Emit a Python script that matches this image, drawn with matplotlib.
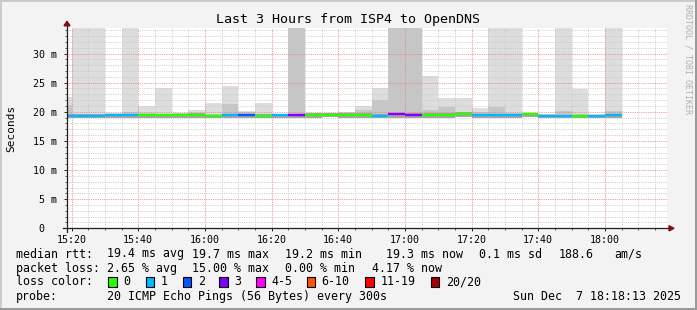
import matplotlib
matplotlib.use("Agg")
import matplotlib.pyplot as plt
from matplotlib.patches import Rectangle, Polygon
from matplotlib.lines import Line2D
from matplotlib.ticker import FixedLocator, MultipleLocator

# ---------------- data ----------------
# bin start, minutes after 15:00 (5-minute bins, 15:15 .. 18:00)
bin_start = [15, 20, 25, 30, 35, 40, 45, 50, 55, 60, 65, 70, 75, 80, 85, 90, 95,
             100, 105, 110, 115, 120, 125, 130, 135, 140, 145, 150, 155, 160,
             165, 170, 175, 180]
median_ms = [19.3, 19.3, 19.3, 19.4, 19.4, 19.4, 19.4, 19.4, 19.5, 19.2, 19.4,
             19.4, 19.3, 19.4, 19.4, 19.5, 19.5, 19.5, 19.5, 19.3, 19.6, 19.5,
             19.5, 19.5, 19.7, 19.4, 19.4, 19.4, 19.6, 19.2, 19.2, 19.2, 19.2, 19.4]
loss_count = [1, 1, 1, 1, 1, 0, 0, 0, 0, 0, 1, 2, 0, 1, 3, 0, 0, 0, 0, 1, 3, 3,
              0, 0, 0, 1, 1, 1, 0, 1, 1, 0, 1, 1]
smoke_lo = [18.9, 18.9, 18.9, 18.95, 18.9, 19.0, 19.0, 18.95, 19.0, 18.9, 18.95,
            18.95, 18.9, 19.0, 18.95, 19.0, 19.05, 18.95, 19.0, 18.9, 18.95, 18.95,
            19.0, 19.0, 19.05, 18.9, 18.95, 18.95, 19.05, 18.85, 18.85, 18.85, 18.85, 18.9]
smoke_mid = [21.1, 19.7, 19.6, 19.6, 20.0, 19.8, 19.7, 19.8, 19.7, 19.6, 21.3,
             19.9, 19.7, 19.6, 40.0, 19.6, 19.6, 19.8, 20.3, 22.0, 40.0, 40.0,
             20.3, 20.9, 20.0, 20.0, 20.9, 19.8, 19.7, 19.6, 20.1, 19.6, 19.5, 20.2]
smoke_hi = [22.5, 40.0, 40.0, 19.8, 40.0, 21.0, 24.0, 19.8, 20.3, 21.5, 24.5,
            20.1, 21.5, 19.7, 40.0, 19.6, 19.6, 19.9, 21.0, 24.0, 40.0, 40.0,
            26.1, 22.4, 22.3, 20.6, 40.0, 40.0, 19.7, 19.6, 40.0, 23.9, 19.7, 40.0]

loss_labels = ["0", "1", "2", "3", "4-5", "6-10", "11-19", "20/20"]
loss_colors = ["#26ff00", "#00b8ff", "#0059ff", "#7e00ff", "#ff00ff",
               "#ff5500", "#ff0000", "#a10000"]

x_ticks = [20, 40, 60, 80, 100, 120, 140, 160, 180]
x_tick_labels = ["15:20", "15:40", "16:00", "16:20", "16:40", "17:00",
                 "17:20", "17:40", "18:00"]
y_ticks = [0, 5, 10, 15, 20, 25, 30]
y_tick_labels = ["0  ", "5 m", "10 m", "15 m", "20 m", "25 m", "30 m"]

title = "Last 3 Hours from ISP4 to OpenDNS"

# ---------------- figure ----------------
W, H = 697, 310
MONO = "DejaVu Sans Mono"
plt.rcParams["font.family"] = [MONO]

fig = plt.figure(figsize=(W / 100, H / 100), dpi=100, facecolor="#f3f3f3")


def fx(x):
    return x / W


def fy(y):
    return 1 - y / H


def loss_color(c):
    if c <= 3:
        return loss_colors[c]
    if c <= 5:
        return loss_colors[4]
    if c <= 10:
        return loss_colors[5]
    if c <= 19:
        return loss_colors[6]
    return loss_colors[7]


ax = fig.add_axes([fx(67), fy(228.3), 600 / W, 200 / H])
ax.set_facecolor("white")
ax.set_xlim(18.62, 198.62)
ax.set_ylim(0, 34.33)

# smoke
widths = [5] * len(bin_start)
ax.bar(bin_start, [h - l for h, l in zip(smoke_hi, smoke_lo)], bottom=smoke_lo,
       width=widths, align="edge", color="#dddddd", linewidth=0, zorder=1)
ax.bar(bin_start, [m - l for m, l in zip(smoke_mid, smoke_lo)], bottom=smoke_lo,
       width=widths, align="edge", color="#c6c6c6", linewidth=0, zorder=1.1)
ax.bar(bin_start, [md + 0.25 - l for md, l in zip(median_ms, smoke_lo)], bottom=smoke_lo,
       width=widths, align="edge", color="#a4a4a4", linewidth=0, zorder=1.2)

# grid
ax.xaxis.set_major_locator(FixedLocator(x_ticks))
ax.xaxis.set_minor_locator(MultipleLocator(5))
ax.yaxis.set_major_locator(FixedLocator(y_ticks))
ax.yaxis.set_minor_locator(MultipleLocator(1))
ax.set_xticklabels(x_tick_labels)
ax.set_yticklabels(y_tick_labels)
ax.set_axisbelow(False)
ax.grid(which="minor", color="#c8c8c8", linestyle=(0, (0.72, 1.1)), linewidth=0.72)
ax.grid(which="major", color="#ee8080", linestyle=(0, (0.72, 1.1)), linewidth=0.72)
for gl in ax.get_xgridlines() + ax.get_ygridlines():
    gl.set_zorder(2)

# median lines coloured by loss
ends = [s + 5 for s in bin_start]
ax.hlines(median_ms, bin_start, ends, colors=[loss_color(c) for c in loss_count],
          linewidth=1.7, zorder=3)

for sp in ax.spines.values():
    sp.set_visible(False)

ax.tick_params(axis="both", which="major", direction="out", length=2.5, width=0.72,
               color="#303030", labelsize=7.2, labelcolor="black")
ax.tick_params(axis="both", which="minor", direction="out", length=1.2, width=0.72,
               color="#606060")
ax.tick_params(axis="x", which="major", pad=2)
ax.tick_params(axis="y", which="major", pad=4.5)

# axis lines with arrows
ax.add_line(Line2D([-4 / 600, 602 / 600], [0, 0], transform=ax.transAxes,
                   color="#202020", linewidth=0.9, clip_on=False, zorder=4))
ax.add_line(Line2D([0, 0], [-4 / 200, 203 / 200], transform=ax.transAxes,
                   color="#202020", linewidth=0.9, clip_on=False, zorder=4))
ax.add_patch(Polygon([[602 / 600, 2.6 / 200], [607 / 600, 0], [602 / 600, -2.6 / 200]],
                     closed=True, transform=ax.transAxes, color="#7f1010",
                     clip_on=False, zorder=5))
ax.add_patch(Polygon([[-3 / 600, 202.5 / 200], [0, 207 / 200], [3 / 600, 202.5 / 200]],
                     closed=True, transform=ax.transAxes, color="#7f1010",
                     clip_on=False, zorder=5))

# texts
fig.text(fx(348.5), fy(19), title, ha="center", va="center", fontsize=9.6)
fig.text(fx(11), fy(128), "Seconds", rotation=90, ha="center", va="center", fontsize=8)
fig.text(fx(688), fy(4), "RRDTOOL / TOBI OETIKER", rotation=270, ha="center", va="top",
         fontsize=6, color="#b0b0b0")

FS = 8.4
rows_y = [254, 268.3, 281.7, 296.7]
row1 = [(16, "median rtt:"), (107.3, "19.4 ms avg"), (192.3, "19.7 ms max"),
        (285, "19.2 ms min"), (386, "19.3 ms now"), (479.3, "0.1 ms sd"),
        (558.3, "188.6"), (614, "am/s")]
row2 = [(16, "packet loss:"), (107.3, "2.65 % avg"), (192.3, "15.00 % max"),
        (285, "0.00 % min"), (372.3, "4.17 % now")]
row4 = [(16, "probe:"), (107.3, "20 ICMP Echo Pings (56 Bytes) every 300s"),
        (513.3, "Sun Dec  7 18:18:13 2025")]
for (x, s) in row1:
    fig.text(fx(x), fy(rows_y[0]), s, ha="left", va="center", fontsize=FS)
for (x, s) in row2:
    fig.text(fx(x), fy(rows_y[1]), s, ha="left", va="center", fontsize=FS)
for (x, s) in row4:
    fig.text(fx(x), fy(rows_y[3]), s, ha="left", va="center", fontsize=FS)

fig.text(fx(16), fy(rows_y[2]), "loss color:", ha="left", va="center", fontsize=FS)
box_x = [108.3, 145.7, 182.7, 219.3, 256.3, 306.7, 365.3, 430.7]
for bx, lab, col in zip(box_x, loss_labels, loss_colors):
    fig.patches.append(Rectangle((fx(bx), fy(rows_y[2] + 5)), 8.5 / W, 10 / H,
                                 transform=fig.transFigure, facecolor=col,
                                 edgecolor="black", linewidth=0.8))
    fig.text(fx(bx + 15), fy(rows_y[2]), lab, ha="left", va="center", fontsize=FS)

# frame shading
fig.patches.append(Rectangle((0, 0), 1, 2 / H, transform=fig.transFigure,
                             facecolor="#9a9a9a", edgecolor="none"))
fig.patches.append(Rectangle((1 - 2 / W, 0), 2 / W, 1, transform=fig.transFigure,
                             facecolor="#9a9a9a", edgecolor="none"))
fig.patches.append(Rectangle((0, 1 - 2 / H), 1 - 2 / W, 2 / H, transform=fig.transFigure,
                             facecolor="#cbcbcb", edgecolor="none"))
fig.patches.append(Rectangle((0, 2 / H), 2 / W, 1 - 4 / H, transform=fig.transFigure,
                             facecolor="#cbcbcb", edgecolor="none"))

fig.savefig("out.png", dpi=100, facecolor=fig.get_facecolor())
